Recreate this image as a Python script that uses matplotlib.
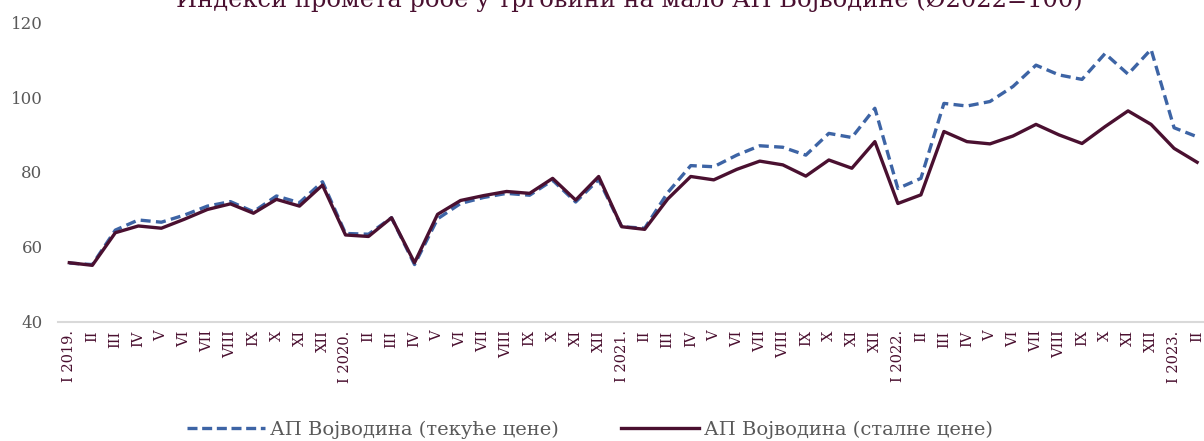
import matplotlib.pyplot as plt
from matplotlib.lines import Line2D

plt.rcParams["font.family"] = ["DejaVu Serif"]

# Месеци (римски бројеви), I 2019 - II 2023
meseci = ["I", "II", "III", "IV", "V", "VI", "VII", "VIII", "IX", "X", "XI", "XII"]
godine = [2019, 2020, 2021, 2022, 2023]

tekuce = [55.7, 55.3, 64.5, 67.2, 66.6, 68.5, 70.9, 72.1, 69.4, 73.6, 71.8, 77.4,
          63.6, 63.4, 67.8, 55.3, 67.5, 71.6, 73.2, 74.3, 73.8, 77.8, 72.0, 78.0,
          65.4, 65.0, 74.5, 81.7, 81.4, 84.5, 87.0, 86.6, 84.5, 90.3, 89.2, 97.0,
          75.6, 78.3, 98.3, 97.6, 98.8, 102.8, 108.5, 105.9, 104.7, 111.6, 106.1, 112.7,
          91.8, 89.4]

stalne = [55.8, 55.1, 63.8, 65.6, 65.0, 67.4, 70.0, 71.5, 69.0, 72.7, 70.9, 76.5,
          63.2, 62.8, 67.8, 55.8, 68.7, 72.4, 73.7, 74.8, 74.3, 78.3, 72.5, 78.8,
          65.4, 64.7, 72.8, 78.8, 77.9, 80.7, 82.9, 81.9, 78.9, 83.2, 81.0, 88.1,
          71.6, 73.9, 90.8, 88.1, 87.5, 89.6, 92.7, 89.9, 87.6, 92.1, 96.3, 92.7,
          86.3, 82.6]

labele = []
for g in godine:
    for m in meseci:
        if len(labele) >= len(tekuce):
            break
        labele.append(f"{m} {g}." if m == "I" else m)

plava = "#3D64A5"
bordo = "#4A1030"
siva = "#595959"

fig = plt.figure(figsize=(12.04, 4.41), dpi=100)
ax = fig.add_axes([0.048, 0.270, 0.952, 0.680])

x = list(range(len(tekuce)))
ax.plot(x, tekuce, color=plava, linestyle=(0, (3, 1.6)), linewidth=2.4, zorder=2)
ax.plot(x, stalne, color=bordo, linewidth=2.4, zorder=3)

ax.set_xlim(-0.5, 49.3)
ax.set_ylim(40, 120)
ax.set_yticks([40, 60, 80, 100, 120])
ax.set_xticks(x)
ax.set_xticklabels(labele, rotation=90, fontsize=10.5, color=bordo)
ax.tick_params(axis="y", labelsize=12, colors=siva, length=0, pad=11)
ax.tick_params(axis="x", length=0, pad=6)

for s in ["top", "right", "left"]:
    ax.spines[s].set_visible(False)
ax.spines["bottom"].set_color("#d9d9d9")
ax.spines["bottom"].set_linewidth(1.5)

# Наслов (делимично одсечен на врху, као у оригиналу)
fig.text(0.523, 1 - 7 / 441, "Индекси промета робе у трговини на мало АП Војводине (Ø2022=100)",
         ha="center", va="baseline", fontsize=17.4, color=bordo)

# --- Легенда ---
rucke = [Line2D([], [], color=plava, linestyle=(0, (3, 1.4)), linewidth=2.4),
         Line2D([], [], color=bordo, linewidth=2.4)]
fig.legend(rucke, ["АП Војводина (текуће цене)", "АП Војводина (сталне цене)"],
           loc="center", bbox_to_anchor=(0.49, 0.025), ncol=2, frameon=False,
           fontsize=14, labelcolor=siva, handlelength=4.0, handletextpad=0.25,
           columnspacing=3.2)

plt.savefig("out.png", dpi=100)
plt.close()
